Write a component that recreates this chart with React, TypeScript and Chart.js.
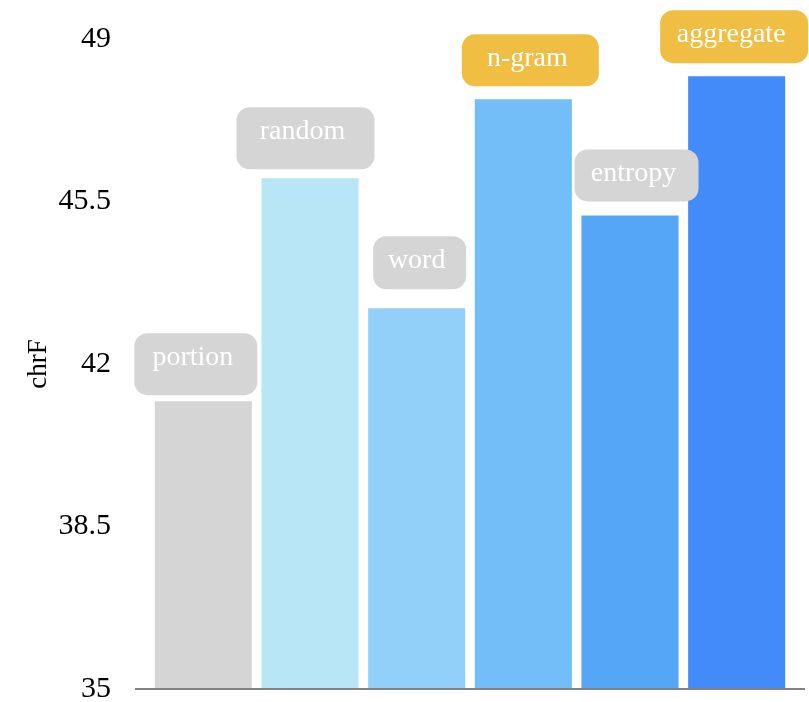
import React, { useEffect, useRef } from "react";
import { Chart, registerables } from "chart.js";

Chart.register(...registerables);

// ---- data ----
const categories = ["portion", "random", "word", "n-gram", "entropy", "aggregate"];
const chrFValues = [41.2, 46.0, 43.2, 47.7, 45.2, 48.2];
const yTickValues = [35, 38.5, 42, 45.5, 49];
const highlighted = [false, false, false, true, false, true];

// ---- styles ----
const barColors = ["#d5d5d5", "#b9e6f7", "#92d0f9", "#73bef9", "#56a6f8", "#428bf9"];
const labelBoxWidth = [123, 138, 93, 137, 124, 148];
const labelBoxHeight = [62, 62, 53, 52, 52, 53];
const labelShiftX = [-7.5, -4.5, 3, 7, 6.5, -2.5];
const labelGap = [6, 9, 19, 13, 14, 13];
const SERIF = '"Liberation Serif", "Times New Roman", Times, serif';

const labelPlugin = {
  id: "barLabels",
  afterDatasetsDraw(chart: any) {
    const ctx = chart.ctx;
    const y = chart.scales.y;
    const yBase = y.getPixelForValue(35);
    ctx.save();
    // axis baseline
    ctx.strokeStyle = "#828282";
    ctx.lineWidth = 2;
    ctx.beginPath();
    ctx.moveTo(135, yBase);
    ctx.lineTo(805, yBase);
    ctx.stroke();

    const meta = chart.getDatasetMeta(0);
    meta.data.forEach((bar: any, i: number) => {
      const w = labelBoxWidth[i];
      const h = labelBoxHeight[i];
      const cx = bar.x + labelShiftX[i];
      const bottom = bar.y - labelGap[i];
      const top = bottom - h;
      ctx.fillStyle = highlighted[i] ? "#efbe42" : "#d5d5d5";
      ctx.beginPath();
      (ctx as any).roundRect(cx - w / 2, top, w, h, 13);
      ctx.fill();
      ctx.fillStyle = "#ffffff";
      ctx.font = `28px ${SERIF}`;
      ctx.textAlign = "center";
      ctx.textBaseline = "alphabetic";
      ctx.fillText(categories[i], cx - 3, top + 32);
    });
    ctx.restore();
  },
};

export default function App() {
  const canvasRef = useRef<HTMLCanvasElement | null>(null);

  useEffect(() => {
    if (!canvasRef.current) return;
    const chart = new Chart(canvasRef.current, {
      type: "bar",
      data: {
        labels: categories,
        datasets: [
          {
            data: chrFValues,
            backgroundColor: barColors,
            borderWidth: 0,
            barPercentage: 0.91,
            categoryPercentage: 1,
          },
        ],
      },
      options: {
        animation: false,
        responsive: false,
        maintainAspectRatio: false,
        layout: { padding: { top: 39, right: 19, bottom: 13, left: 0 } },
        plugins: {
          legend: { display: false },
          tooltip: { enabled: false },
        },
        scales: {
          x: {
            display: false,
          },
          y: {
            min: 35,
            max: 49,
            afterBuildTicks: (scale: any) => {
              scale.ticks = yTickValues.map((v) => ({ value: v }));
            },
            afterFit: (scale: any) => {
              scale.width = 150;
              scale.paddingTop = 0;
              scale.paddingBottom = 0;
            },
            grid: { display: false },
            border: { display: false },
            ticks: {
              color: "#000000",
              padding: 31,
              font: { family: SERIF, size: 30, lineHeight: 0.8 },
              callback: (v: any) => String(v),
            },
            title: {
              display: true,
              text: "chrF",
              color: "#000000",
              font: { family: SERIF, size: 27 },
              padding: { top: 23, bottom: 0 },
            },
          },
        },
      },
      plugins: [labelPlugin],
    });
    return () => chart.destroy();
  }, []);

  return (
    <div style={{ position: "fixed", left: 0, top: 0, width: 809, height: 702, background: "#fff" }}>
      <canvas ref={canvasRef} width={809} height={702} style={{ display: "block" }} />
    </div>
  );
}
